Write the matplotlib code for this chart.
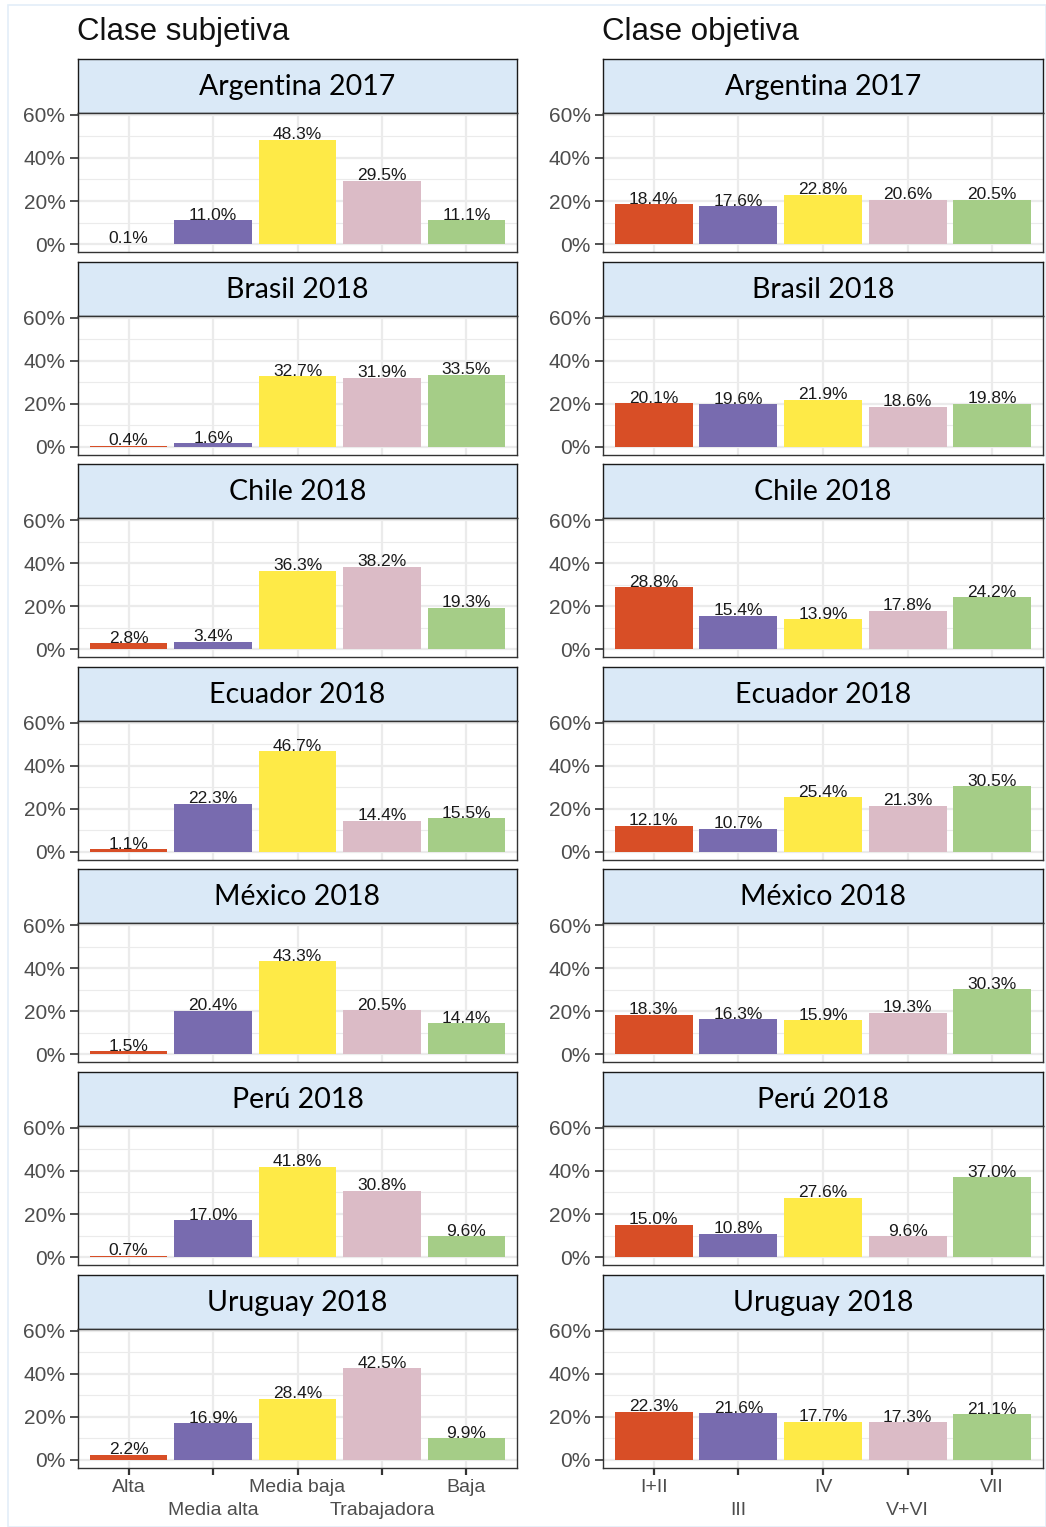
import matplotlib
matplotlib.use("Agg")
import matplotlib.pyplot as plt
from matplotlib.patches import Rectangle

countries = ["Argentina 2017", "Brasil 2018", "Chile 2018", "Ecuador 2018",
             "México 2018", "Perú 2018", "Uruguay 2018"]
subj_cats = ["Alta", "Media alta", "Media baja", "Trabajadora", "Baja"]
obj_cats = ["I+II", "III", "IV", "V+VI", "VII"]
subj_vals = [
    [0.1, 11.0, 48.3, 29.5, 11.1],
    [0.4, 1.6, 32.7, 31.9, 33.5],
    [2.8, 3.4, 36.3, 38.2, 19.3],
    [1.1, 22.3, 46.7, 14.4, 15.5],
    [1.5, 20.4, 43.3, 20.5, 14.4],
    [0.7, 17.0, 41.8, 30.8, 9.6],
    [2.2, 16.9, 28.4, 42.5, 9.9],
]
obj_vals = [
    [18.4, 17.6, 22.8, 20.6, 20.5],
    [20.1, 19.6, 21.9, 18.6, 19.8],
    [28.8, 15.4, 13.9, 17.8, 24.2],
    [12.1, 10.7, 25.4, 21.3, 30.5],
    [18.3, 16.3, 15.9, 19.3, 30.3],
    [15.0, 10.8, 27.6, 9.6, 37.0],
    [22.3, 21.6, 17.7, 17.3, 21.1],
]
colors = ["#D84E26", "#786BAF", "#FEEA47", "#DBBBC6", "#A5CD87"]
col_titles = ["Clase subjetiva", "Clase objetiva"]
yticks = [0, 20, 40, 60]

W, H = 1046, 1527
fig = plt.figure(figsize=(W / 100, H / 100), dpi=100)
fig.patch.set_facecolor("white")
fig.add_artist(Rectangle((8 / W, 0), (W - 8) / W, (H - 5) / H, transform=fig.transFigure,
                         fill=False, edgecolor="#E3EEF8", lw=1.2))

col_x = [(78, 517), (603, 1043)]
row_step = 202.6
strip_top0 = 59
strip_h = 54
panel_h = 139

def fx(px):
    return px / W

def fy(py):
    return 1 - py / H

tick_font = dict(family="Liberation Sans", color="#4D4D4D", fontsize=15)
xtick_font = dict(family="Liberation Sans", color="#4D4D4D", fontsize=14)

for c, (cats, vals) in enumerate([(subj_cats, subj_vals), (obj_cats, obj_vals)]):
    x0, x1 = col_x[c]
    fig.text(fx(x0 - 1), fy(32), col_titles[c], fontsize=22.5, family="Liberation Sans",
             va="center", ha="left", color="#111111")
    for r in range(len(countries)):
        st = strip_top0 + r * row_step
        pt = st + strip_h
        # strip
        sax = fig.add_axes([fx(x0), fy(pt), fx(x1) - fx(x0), strip_h / H])
        sax.set_facecolor("#DAE9F7")
        sax.set_xticks([]); sax.set_yticks([])
        for s in sax.spines.values():
            s.set_color("#1A1A1A"); s.set_linewidth(1.0)
        sax.text(0.5, 0.48, countries[r], transform=sax.transAxes, ha="center",
                 va="center", fontsize=20.5, family="Lato", color="black")
        # panel
        ax = fig.add_axes([fx(x0), fy(pt + panel_h), fx(x1) - fx(x0), panel_h / H])
        ax.set_facecolor("white")
        xs = list(range(1, 6))
        ax.bar(xs, vals[r], width=0.92, color=colors, zorder=3)
        for xi, v in zip(xs, vals[r]):
            ax.text(xi, v + 0.3, f"{v:.1f}%", ha="center", va="baseline",
                    fontsize=12.5, family="Liberation Sans", color="#1A1A1A", zorder=4)
        ax.set_xlim(0.4, 5.6)
        ax.set_ylim(-3.7, 60.9)
        ax.set_yticks(yticks)
        ax.set_yticklabels([f"{t}%" for t in yticks], **tick_font)
        ax.set_yticks([10, 30, 50], minor=True)
        ax.grid(True, which="major", color="#EBEBEB", lw=1.6, zorder=0)
        ax.grid(True, which="minor", axis="y", color="#EBEBEB", lw=0.8, zorder=0)
        ax.set_xticks(xs)
        ax.tick_params(axis="y", which="major", length=6, width=1.2, color="#333333", pad=3)
        ax.tick_params(axis="y", which="minor", length=0)
        for s in ax.spines.values():
            s.set_color("#333333"); s.set_linewidth(1.0)
        if r == len(countries) - 1:
            ax.tick_params(axis="x", length=5, width=1.6, color="#333333", pad=3)
            ax.set_xticklabels(cats, **xtick_font)
            for i, tk in enumerate(ax.xaxis.get_major_ticks()):
                tk.set_pad(3 if i % 2 == 0 else 20)
        else:
            ax.set_xticklabels([])
            ax.tick_params(axis="x", length=0)

fig.savefig("out.png", dpi=100)
